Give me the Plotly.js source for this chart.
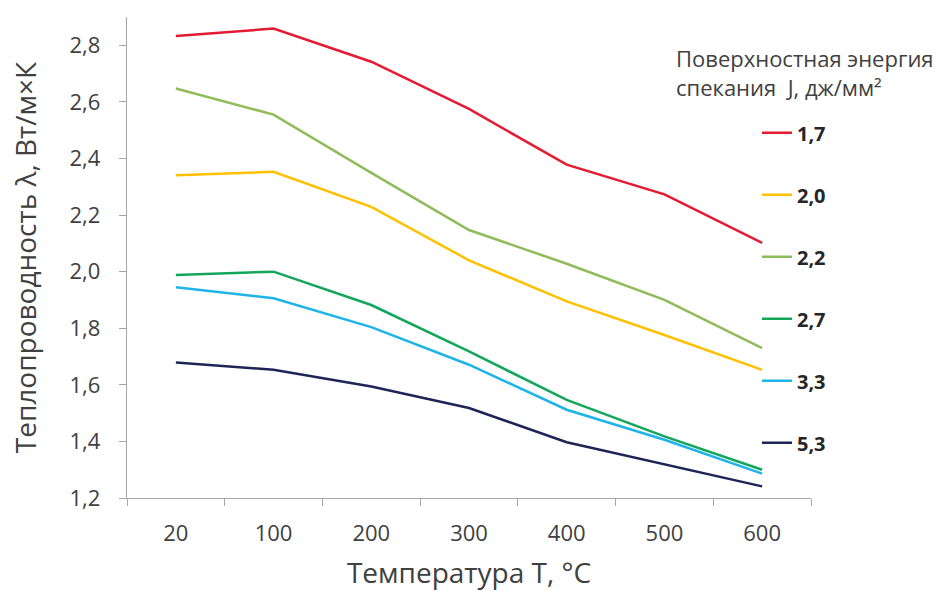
<!DOCTYPE html>
<html>
<head>
<meta charset="utf-8">
<script src="https://cdn.plot.ly/plotly-3.0.1.min.js"></script>
<style>html,body{margin:0;padding:0;background:#fff;}#chart{width:939px;height:591px;}</style>
</head>
<body>
<div id="chart"></div>
<script>
// Categories (temperature, °C)
const temperatures = ['20', '100', '200', '300', '400', '500', '600'];
// Series names (surface sintering energy J, dj/mm²)
const energyLabels = ['1,7', '2,0', '2,2', '2,7', '3,3', '5,3'];
// Thermal conductivity values, W/m·K
const lambda_1_7 = [2.833, 2.859, 2.742, 2.575, 2.378, 2.273, 2.102];
const lambda_2_0 = [2.341, 2.353, 2.229, 2.040, 1.895, 1.776, 1.653];
const lambda_2_2 = [2.647, 2.555, 2.349, 2.147, 2.028, 1.900, 1.730];
const lambda_2_7 = [1.988, 2.000, 1.882, 1.718, 1.547, 1.418, 1.300];
const lambda_3_3 = [1.945, 1.906, 1.804, 1.671, 1.512, 1.406, 1.286];
const lambda_5_3 = [1.679, 1.653, 1.594, 1.518, 1.397, 1.318, 1.241];
const seriesValues = [lambda_1_7, lambda_2_0, lambda_2_2, lambda_2_7, lambda_3_3, lambda_5_3];
const seriesColors = ['#E41B32', '#FFC000', '#8FBC5A', '#12A65A', '#1EB4E8', '#1D2456'];

const FONT = '"Open Sans", "Noto Sans", sans-serif';
const TXT = '#404040';

const traces = seriesValues.map((vals, i) => ({
  type: 'scatter',
  mode: 'lines',
  x: temperatures,
  y: vals,
  name: '<b>' + energyLabels[i] + '</b>',
  legendgroup: 'g' + i,
  line: {color: seriesColors[i], width: 2.5},
  hoverinfo: 'x+y+name'
}));

const layout = {
  width: 939,
  height: 591,
  margin: {l: 127, r: 128, t: 17, b: 93},
  paper_bgcolor: '#ffffff',
  plot_bgcolor: '#ffffff',
  separators: ', ',
  font: {family: FONT, color: TXT, size: 20},
  showlegend: true,
  legend: {
    x: 0.921, xanchor: 'left',
    y: 0.80, yanchor: 'top',
    tracegroupgap: 33,
    itemwidth: 30,
    font: {family: FONT, size: 20, color: '#262626'},
    bgcolor: 'rgba(0,0,0,0)'
  },
  xaxis: {
    type: 'category',
    range: [-0.5, 6.5],
    showline: true, linecolor: '#A6A6A6', linewidth: 1.2,
    ticks: 'outside', tickson: 'boundaries', ticklen: 7, tickcolor: '#A6A6A6',
    ticklabelstandoff: 15,
    showgrid: false, zeroline: false,
    tickfont: {family: FONT, size: 22, color: TXT},
    title: {text: 'Температура Т, °С', font: {family: FONT, size: 28, color: TXT}, standoff: 22}
  },
  yaxis: {
    range: [1.2, 2.9],
    tick0: 1.2, dtick: 0.2, tickformat: '.1f',
    showline: true, linecolor: '#A6A6A6', linewidth: 1.2,
    ticks: 'outside', ticklen: 7, tickcolor: '#A6A6A6',
    ticklabelstandoff: 14,
    showgrid: false, zeroline: false,
    tickfont: {family: FONT, size: 22, color: TXT},
    title: {text: 'Теплопроводность λ, Вт/м×К', font: {family: FONT, size: 28, color: TXT}, standoff: 24}
  },
  annotations: [{
    xref: 'paper', yref: 'paper',
    x: 0.799, y: 0.95, xanchor: 'left', yanchor: 'top', align: 'left',
    showarrow: false,
    text: 'Поверхностная энергия<br>спекания  J, дж/мм²',
    font: {family: FONT, size: 22, color: TXT}
  }]
};

Plotly.newPlot('chart', traces, layout, {displayModeBar: false, staticPlot: true});
</script>
</body>
</html>
